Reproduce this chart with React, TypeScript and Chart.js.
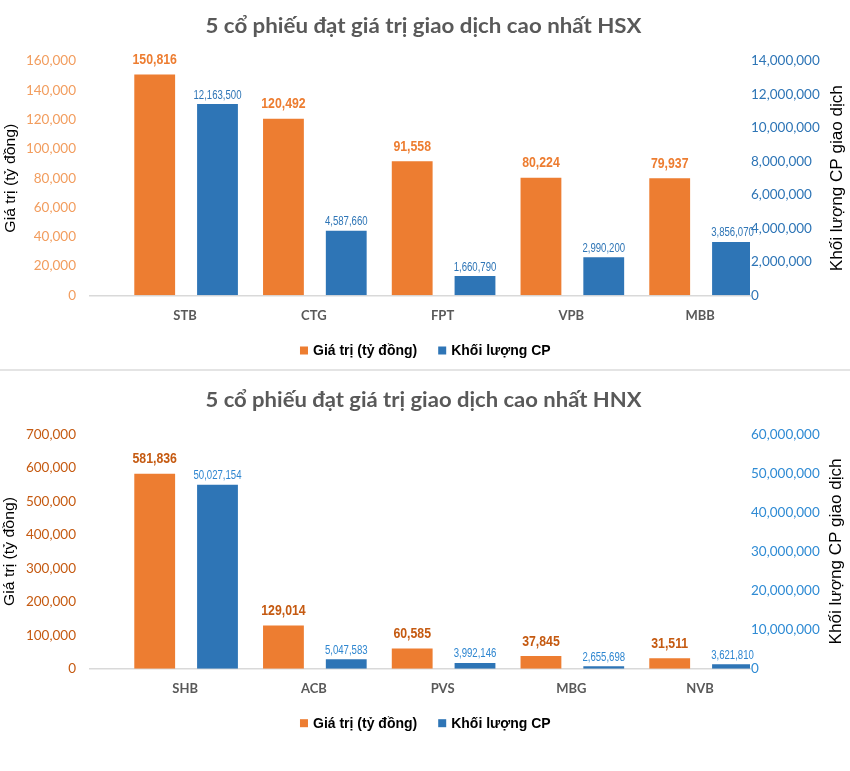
import React, { useEffect, useRef } from 'react';
import { Chart, registerables } from 'chart.js';

Chart.register(...registerables);

// ---------- DATA ----------
const hsxCategories = ['STB', 'CTG', 'FPT', 'VPB', 'MBB'];
const hsxValues = [150816, 120492, 91558, 80224, 79937];
// bar heights as drawn in the picture (right axis)
const hsxVolumes = [11430000, 3850000, 1150000, 2270000, 3190000];
// numbers printed above the blue bars
const hsxVolumeLabels = [12163500, 4587660, 1660790, 2990200, 3856070];
const hsxLeftTicks = { max: 160000, step: 20000 };
const hsxRightTicks = { max: 14000000, step: 2000000 };

const hnxCategories = ['SHB', 'ACB', 'PVS', 'MBG', 'NVB'];
const hnxValues = [581836, 129014, 60585, 37845, 31511];
const hnxVolumes = [47100000, 2400000, 1460000, 610000, 1130000];
const hnxVolumeLabels = [50027154, 5047583, 3992146, 2655698, 3621810];
const hnxLeftTicks = { max: 700000, step: 100000 };
const hnxRightTicks = { max: 60000000, step: 10000000 };

const seriesNames = ['Giá trị (tỷ đồng)', 'Khối lượng CP'];
const leftAxisTitle = 'Giá trị (tỷ đồng)';
const rightAxisTitle = 'Khối lượng CP giao dịch';

// ---------- STYLE ----------
const ORANGE = '#ED7D31';
const BLUE = '#2E75B6';
const W = 850;

type Panel = {
  title: string;
  categories: string[];
  values: number[];
  volumes: number[];
  volumeLabels: number[];
  left: { max: number; step: number };
  right: { max: number; step: number };
  height: number;
  plotTop: number;
  plotBottom: number;
  titleY: number;
  catY: number;
  legendY: number;
  leftTitleX: number;
  rightTitleX: number;
  leftTickColor: string;
  rightTickColor: string;
  valueLabelColor: string;
  volumeLabelColor: string;
};

const fmt = (n: number) => Math.round(n).toLocaleString('en-US');

function fillScaled(ctx: CanvasRenderingContext2D, text: string, x: number, y: number, sx: number, align: CanvasTextAlign) {
  ctx.save();
  ctx.translate(x, y);
  ctx.scale(sx, 1);
  ctx.textAlign = align;
  ctx.fillText(text, 0, 0);
  ctx.restore();
}

function fitScale(ctx: CanvasRenderingContext2D, text: string, target: number) {
  const w = ctx.measureText(text).width;
  return w > 0 ? target / w : 1;
}

function makeChart(canvas: HTMLCanvasElement, p: Panel) {
  const X0 = 186.1;
  const STEP = 128.75;
  const xmin = (90 - X0) / STEP;
  const xmax = (750 - X0) / STEP;

  const overlay = {
    id: 'overlay',
    afterDatasetsDraw(chart: any) {
      const ctx: CanvasRenderingContext2D = chart.ctx;
      const m0 = chart.getDatasetMeta(0);
      const m1 = chart.getDatasetMeta(1);
      ctx.save();
      ctx.textBaseline = 'alphabetic';
      ctx.font = 'bold 15px "Liberation Sans", Arial, sans-serif';
      ctx.fillStyle = p.valueLabelColor;
      m0.data.forEach((el: any, i: number) => {
        fillScaled(ctx, fmt(p.values[i]), el.x, el.y - 10.5, 0.82, 'center');
      });
      ctx.font = '12px "Liberation Sans", Arial, sans-serif';
      ctx.fillStyle = p.volumeLabelColor;
      m1.data.forEach((el: any, i: number) => {
        fillScaled(ctx, fmt(p.volumeLabels[i]), el.x, el.y - 5.5, 0.8, 'center');
      });
      ctx.restore();
    },
    afterDraw(chart: any) {
      const ctx: CanvasRenderingContext2D = chart.ctx;
      const area = chart.chartArea;
      const midY = (area.top + area.bottom) / 2;
      ctx.save();
      // title
      ctx.textBaseline = 'alphabetic';
      ctx.fillStyle = '#595959';
      ctx.font = 'bold 21px Lato, "Open Sans", sans-serif';
      fillScaled(ctx, p.title, 423.5, p.titleY, fitScale(ctx, p.title, 436), 'center');

      // category labels
      ctx.font = 'bold 13px Lato, sans-serif';
      ctx.fillStyle = '#595959';
      const xs = chart.scales.x;
      p.categories.forEach((c, i) => {
        fillScaled(ctx, c, xs.getPixelForValue(i) - 1, p.catY, 1, 'center');
      });

      // axis titles
      ctx.fillStyle = '#000000';
      ctx.textBaseline = 'middle';
      ctx.font = '14px "Liberation Sans", Arial, sans-serif';
      {
        const s = fitScale(ctx, leftAxisTitle, 109);
        ctx.save();
        ctx.translate(p.leftTitleX, midY);
        ctx.rotate(-Math.PI / 2);
        ctx.scale(s, 1);
        ctx.textAlign = 'center';
        ctx.fillText(leftAxisTitle, 0, 0);
        ctx.restore();
      }
      ctx.font = '16px "Liberation Sans", Arial, sans-serif';
      {
        const s = fitScale(ctx, rightAxisTitle, 186);
        ctx.save();
        ctx.translate(p.rightTitleX, midY);
        ctx.rotate(-Math.PI / 2);
        ctx.scale(s, 1);
        ctx.textAlign = 'center';
        ctx.fillText(rightAxisTitle, 0, 0);
        ctx.restore();
      }

      // legend
      ctx.textBaseline = 'alphabetic';
      ctx.font = 'bold 14px "Liberation Sans", Arial, sans-serif';
      ctx.fillStyle = '#000000';
      const box = 8;
      const gapBox = 5;
      const gapItem = 21;
      const w1 = ctx.measureText(seriesNames[0]).width;
      const w2 = ctx.measureText(seriesNames[1]).width;
      const total = box + gapBox + w1 + gapItem + box + gapBox + w2;
      let x = 425.3 - total / 2;
      const colors = [ORANGE, BLUE];
      const widths = [w1, w2];
      seriesNames.forEach((name, i) => {
        ctx.fillStyle = colors[i];
        ctx.fillRect(x, p.legendY - 8.5, box, box);
        x += box + gapBox;
        ctx.fillStyle = '#000000';
        ctx.textAlign = 'left';
        ctx.fillText(name, x, p.legendY);
        x += widths[i] + gapItem;
      });
      ctx.restore();
    },
  };

  return new Chart(canvas, {
    type: 'bar',
    data: {
      datasets: [
        {
          label: seriesNames[0],
          data: p.values.map((v, i) => ({ x: i, y: v })),
          yAxisID: 'y',
          backgroundColor: ORANGE,
          barPercentage: 0.65,
          categoryPercentage: 0.9755,
        },
        {
          label: seriesNames[1],
          data: p.volumes.map((v, i) => ({ x: i, y: v })),
          yAxisID: 'y1',
          backgroundColor: BLUE,
          barPercentage: 0.65,
          categoryPercentage: 0.9755,
        },
      ],
    },
    options: {
      responsive: false,
      animation: false,
      events: [],
      layout: {
        padding: { top: p.plotTop, bottom: p.height - p.plotBottom, left: 0, right: 0 },
      },
      plugins: {
        legend: { display: false },
        title: { display: false },
        tooltip: { enabled: false },
      },
      scales: {
        x: {
          type: 'linear',
          min: xmin,
          max: xmax,
          bounds: 'data',
          offset: false,
          ticks: { display: false, stepSize: 1, includeBounds: false },
          grid: { display: false, drawTicks: false, offset: false },
          border: { display: true, color: '#D9D9D9', width: 1.5 },
          afterBuildTicks: (s: any) => {
            s.ticks = p.categories.map((_, i) => ({ value: i }));
          },
          afterFit: (s: any) => {
            s.height = 0;
          },
        },
        y: {
          position: 'left',
          min: 0,
          max: p.left.max,
          ticks: {
            stepSize: p.left.step,
            color: p.leftTickColor,
            font: { family: 'Lato', size: 13.5 },
            padding: 14,
            callback: (v: any) => fmt(Number(v)),
          },
          grid: { display: false, drawTicks: false },
          border: { display: false },
          afterFit: (s: any) => {
            s.width = 90;
          },
        },
        y1: {
          position: 'right',
          min: 0,
          max: p.right.max,
          ticks: {
            stepSize: p.right.step,
            color: p.rightTickColor,
            font: { family: 'Lato', size: 13.5 },
            padding: 1,
            callback: (v: any) => fmt(Number(v)),
          },
          grid: { display: false, drawTicks: false },
          border: { display: false },
          afterFit: (s: any) => {
            s.width = 100;
          },
        },
      },
    } as any,
    plugins: [overlay as any],
  });
}

function ChartPanel({ panel }: { panel: Panel }) {
  const ref = useRef<HTMLCanvasElement | null>(null);
  useEffect(() => {
    if (!ref.current) return;
    const chart = makeChart(ref.current, panel);
    return () => chart.destroy();
  }, [panel]);
  return <canvas ref={ref} width={W} height={panel.height} style={{ display: 'block', width: W, height: panel.height }} />;
}

const hsxPanel: Panel = {
  title: '5 cổ phiếu đạt giá trị giao dịch cao nhất HSX',
  categories: hsxCategories,
  values: hsxValues,
  volumes: hsxVolumes,
  volumeLabels: hsxVolumeLabels,
  left: hsxLeftTicks,
  right: hsxRightTicks,
  height: 369,
  plotTop: 61,
  plotBottom: 295.3,
  titleY: 33.3,
  catY: 320,
  legendY: 355,
  leftTitleX: 11,
  rightTitleX: 838,
  leftTickColor: '#F29D5E',
  rightTickColor: '#2E75B6',
  valueLabelColor: '#ED7D31',
  volumeLabelColor: '#2E75B6',
};

const hnxPanel: Panel = {
  title: '5 cổ phiếu đạt giá trị giao dịch cao nhất HNX',
  categories: hnxCategories,
  values: hnxValues,
  volumes: hnxVolumes,
  volumeLabels: hnxVolumeLabels,
  left: hnxLeftTicks,
  right: hnxRightTicks,
  height: 400,
  plotTop: 63.3,
  plotBottom: 297.7,
  titleY: 35.7,
  catY: 322.3,
  legendY: 356.7,
  leftTitleX: 10.5,
  rightTitleX: 837,
  leftTickColor: '#C55A11',
  rightTickColor: '#2F8BD4',
  valueLabelColor: '#C55A11',
  volumeLabelColor: '#2E86D0',
};

export default function App() {
  useEffect(() => {
    document.body.style.margin = '0';
    document.body.style.background = '#FFFFFF';
  }, []);
  return (
    <div style={{ width: W, background: '#FFFFFF' }}>
      <ChartPanel panel={hsxPanel} />
      <div style={{ height: 2, background: '#E4E4E4' }} />
      <ChartPanel panel={hnxPanel} />
    </div>
  );
}
